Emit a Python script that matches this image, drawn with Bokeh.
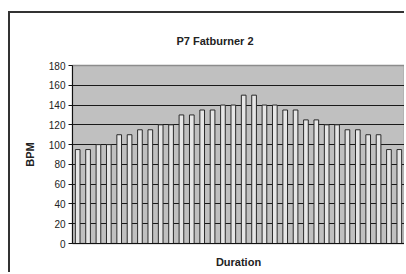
from bokeh.plotting import figure
from bokeh.models import ColumnDataSource, FixedTicker
from bokeh.embed import file_html
from bokeh.resources import INLINE

minutes = list(range(1, 33))
bpm = [95, 95, 100, 100, 110, 110, 115, 115, 120, 120, 130, 130, 135, 135, 140, 140,
       150, 150, 140, 140, 135, 135, 125, 125, 120, 120, 115, 115, 110, 110, 95, 95]
y_ticks = [0, 20, 40, 60, 80, 100, 120, 140, 160, 180]
chart_title = "P7 Fatburner 2"

src = ColumnDataSource(dict(x=minutes, y=bpm))

# the chart's outer border: only its left and top edges fall inside the crop
p = figure(width=396, height=261, output_backend="svg", toolbar_location=None,
           x_range=(0.5, 32.5), y_range=(0, 180),
           min_border_left=62, min_border_right=2, min_border_top=52, min_border_bottom=31,
           styles={"margin-left": "8px", "margin-top": "11px",
                   "border-left": "2px solid #333333", "border-top": "2px solid #333333"})

p.background_fill_color = "#C0C0C0"
p.border_fill_color = "white"
p.outline_line_color = "#8C8C8C"
p.outline_line_width = 1.5

p.vbar(x="x", top="y", width=0.45, bottom=0, source=src,
       fill_color="#E6E6E6", line_color="#2A2A2A", line_width=1)

p.title.text = chart_title
p.title.align = "left"
p.title.offset = 104
p.title.standoff = 38
p.title.text_font = "Liberation Sans"
p.title.text_font_size = "11px"
p.title.text_font_style = "bold"
p.title.text_color = "#222222"

p.xgrid.grid_line_color = None
p.ygrid.grid_line_color = "#1A1A1A"
p.ygrid.grid_line_width = 1
p.ygrid.ticker = FixedTicker(ticks=y_ticks)

p.yaxis.ticker = FixedTicker(ticks=y_ticks)
p.yaxis.axis_label = "BPM"
p.yaxis.axis_label_text_font = "Liberation Sans"
p.yaxis.axis_label_text_font_size = "11px"
p.yaxis.axis_label_text_font_style = "bold"
p.yaxis.axis_label_text_color = "#222222"
p.yaxis.axis_label_standoff = 10
p.yaxis.major_label_text_font = "Liberation Sans"
p.yaxis.major_label_text_font_size = "10px"
p.yaxis.major_label_text_color = "#222222"
p.yaxis.major_label_standoff = 3
p.yaxis.axis_line_color = "#111111"
p.yaxis.major_tick_line_color = "#111111"
p.yaxis.major_tick_out = 4
p.yaxis.major_tick_in = 0
p.yaxis.minor_tick_line_color = None

p.xaxis.ticker = FixedTicker(ticks=[])
p.xaxis.axis_label = "Duration"
p.xaxis.axis_label_text_font = "Liberation Sans"
p.xaxis.axis_label_text_font_size = "11px"
p.xaxis.axis_label_text_font_style = "bold"
p.xaxis.axis_label_text_color = "#222222"
p.xaxis.major_tick_out = 0
p.xaxis.major_tick_in = 0
p.xaxis.major_label_standoff = 0
p.xaxis.minor_tick_line_color = None
p.xaxis.axis_line_color = "#111111"
p.xaxis.axis_label_standoff = 12

open("out.html", "w").write(file_html(p, INLINE))
